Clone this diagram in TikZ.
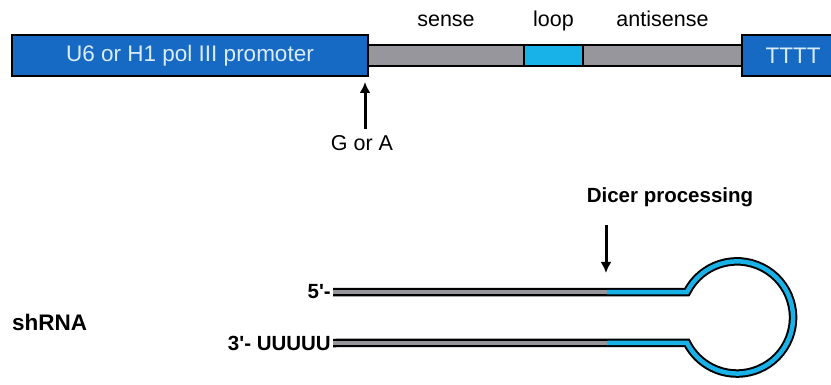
\documentclass[tikz,border=0pt]{standalone}
\usepackage{fontspec}
\setmainfont{Liberation Sans}
\usetikzlibrary{positioning,arrows.meta}
\definecolor{prom}{RGB}{22,106,196}
\definecolor{lp}{RGB}{24,178,232}
\definecolor{stm}{RGB}{150,150,156}
\definecolor{ptxt}{RGB}{218,236,250}

\begin{document}
\begin{tikzpicture}[x=1pt,y=-1pt,font=\fontsize{21.5}{25}\selectfont,>={Latex[length=11pt,width=11pt]},node distance=3pt,
  blk/.style={draw,line width=1.6pt,fill=prom,text=ptxt,minimum height=41pt,inner sep=0pt,outer sep=0pt,anchor=west,font=\fontsize{22.5}{26}\selectfont},
  seg/.style={draw,line width=1.6pt,fill=stm,minimum height=21pt,inner sep=0pt,outer sep=0pt,anchor=west},
  lbl/.style={inner sep=0pt,anchor=base},
  bold/.style={inner sep=0pt,font=\fontsize{20.5}{24}\selectfont\bfseries},
  pt/.style={->,line width=3pt}]
  \useasboundingbox (0,0) rectangle (831,385);
  % expression cassette
  \node[blk,minimum width=356pt] (prom) at (12,55.5) {U6 or H1 pol III promoter};
  \node[seg,minimum width=156pt] (sns) at (prom.east) {};
  \node[seg,minimum width=59pt,fill=lp] (lop) at (sns.east) {};
  \node[seg,minimum width=159pt] (asns) at (lop.east) {};
  \node[blk,minimum width=102pt] (term) at (asns.east) {TTTT};
  \node[lbl] at ([yshift=18pt]sns.north) {sense};
  \node[lbl] at ([yshift=18pt]lop.north) {loop};
  \node[lbl] at ([yshift=18pt]asns.north) {antisense};
  \coordinate (gsite) at (365,82);
  \node[lbl] (ga) at (362,151) {G or A};
  \draw[pt] ([xshift=3pt,yshift=7pt]ga.north) -- (gsite);
  % hairpin
  \node[bold,anchor=west,font=\fontsize{22.5}{26}\selectfont\bfseries] (shr) at (12,322) {shRNA};
  \node[bold,anchor=east] (p5) at (331,292) {5\textquotesingle-};
  \node[bold,anchor=east] (p3) at (331,343) {3\textquotesingle- UUUUU};
  \coordinate (c5) at (607,292);
  \coordinate (c3) at (607,343);
  \coordinate (j5) at (687,292);
  \coordinate (j3) at (687,343);
  \draw[line width=8.5pt] ([xshift=2pt]p5.east) -- (j5) arc[start angle=-153,end angle=153,radius=56.1] -- ([xshift=2pt]p3.east);
  \draw[line width=4.5pt,stm] ([xshift=2pt]p5.east) -- (c5);
  \draw[line width=4.5pt,stm] ([xshift=2pt]p3.east) -- (c3);
  \draw[line width=4.5pt,lp] (c5) -- (j5) arc[start angle=-153,end angle=153,radius=56.1] -- (c3);
  \node[bold] (dcr) at (670,197) {Dicer processing};
  \coordinate (dtop) at (606,225);
  \coordinate (dcut) at (606,273);
  \draw[pt] (dtop) -- (dcut);
\end{tikzpicture}
\end{document}
